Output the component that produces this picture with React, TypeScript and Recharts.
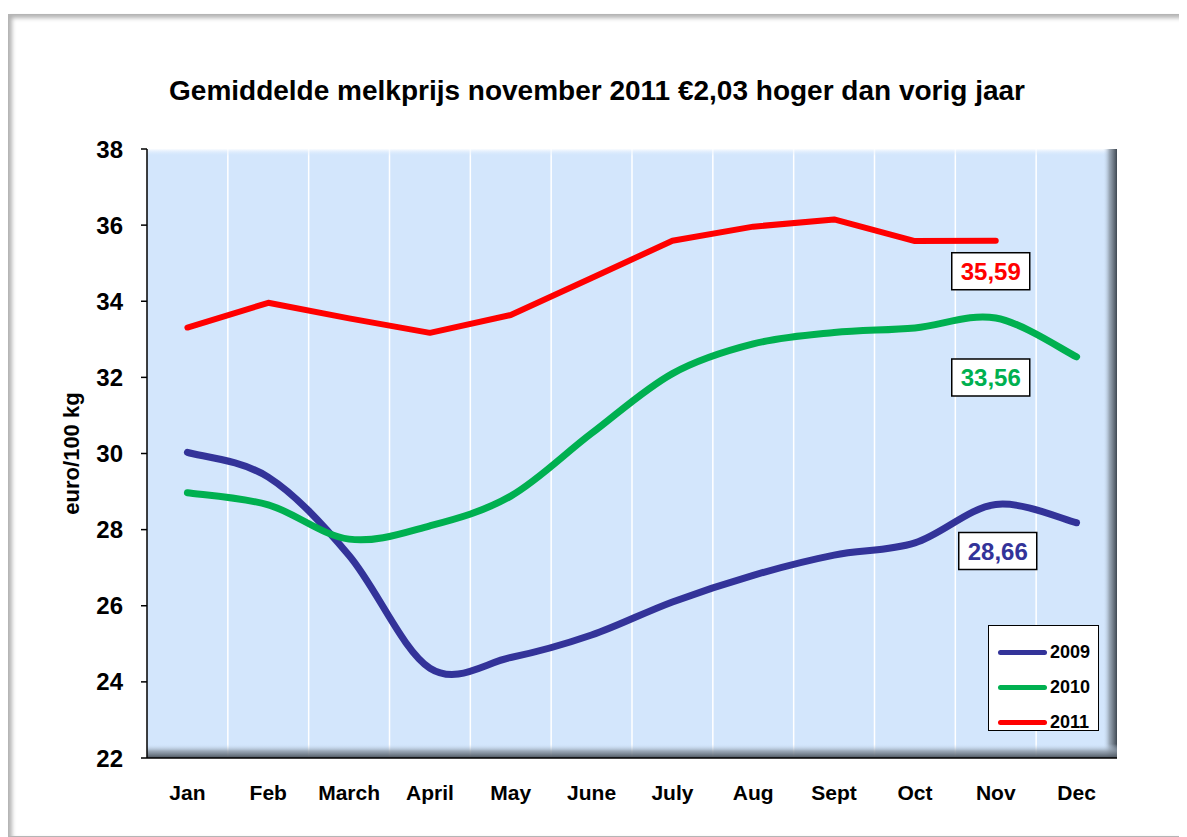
import React from 'react';
import {
  LineChart,
  Line,
  XAxis,
  YAxis,
  CartesianGrid,
  Legend,
  usePlotArea,
} from 'recharts';

// maanden en melkprijzen (euro/100 kg)
const months = ['Jan', 'Feb', 'March', 'April', 'May', 'June', 'July', 'Aug', 'Sept', 'Oct', 'Nov', 'Dec'];
const price2009 = [30.03, 29.38, 27.32, 24.36, 24.64, 25.23, 26.1, 26.8, 27.33, 27.65, 28.66, 28.18];
const price2010 = [28.97, 28.65, 27.75, 28.1, 28.88, 30.53, 32.1, 32.88, 33.18, 33.3, 33.56, 32.54];
const price2011 = [33.31, 33.96, 33.55, 33.17, 33.64, 34.61, 35.59, 35.96, 36.15, 35.58, 35.59, null];
const yTicks = [22, 24, 26, 28, 30, 32, 34, 36, 38];
const boundaryTicks = [0, 1, 2, 3, 4, 5, 6, 7, 8, 9, 10, 11, 12];
const labelTicks = months.map((_, i) => i + 0.5);

const FONT = '"Liberation Sans", Arial, sans-serif';

const data = months.map((m, i) => ({
  pos: i + 0.5,
  month: m,
  y2009: price2009[i],
  y2010: price2010[i],
  y2011: price2011[i],
}));

// Excel-achtige smoothing (Catmull-Rom)
const excelSmooth = (context: any) => {
  let pts: [number, number][] = [];
  return {
    areaStart() {},
    areaEnd() {},
    lineStart() {
      pts = [];
    },
    lineEnd() {
      const n = pts.length;
      if (n === 0) return;
      context.moveTo(pts[0][0], pts[0][1]);
      for (let i = 0; i < n - 1; i++) {
        const p0 = pts[Math.max(i - 1, 0)];
        const p1 = pts[i];
        const p2 = pts[i + 1];
        const p3 = pts[Math.min(i + 2, n - 1)];
        context.bezierCurveTo(
          p1[0] + (p2[0] - p0[0]) / 6,
          p1[1] + (p2[1] - p0[1]) / 6,
          p2[0] - (p3[0] - p1[0]) / 6,
          p2[1] - (p3[1] - p1[1]) / 6,
          p2[0],
          p2[1]
        );
      }
    },
    point(x: number, y: number) {
      pts.push([+x, +y]);
    },
  };
};

// witte lijnen op de maandgrenzen (binnenste grenzen)
const innerBoundaries = boundaryTicks.slice(1, -1);
const monthBoundaryLines = (args: any) => {
  const scale = args?.xAxis?.scale;
  if (typeof scale === 'function') return innerBoundaries.map((t) => scale(t));
  const o = args.offset;
  return innerBoundaries.map((t) => o.left + (t * o.width) / 12);
};

// 3D-rand van het plotvlak
function PlotBevel() {
  const area = usePlotArea();
  if (!area) return null;
  const { x, y, width, height } = area;
  return (
    <g pointerEvents='none'>
      <rect x={x} y={y} width={width} height={7} fill='url(#bevelTop)' />
      <rect x={x + width - 14} y={y} width={14} height={height} fill='url(#bevelRight)' />
      <rect x={x} y={y + height - 14} width={width} height={14} fill='url(#bevelBottom)' />
    </g>
  );
}

// label bij de novemberwaarde
const novLabel = (color: string, dx: number, dy: number) => (props: any) => {
  const { x, y, index, value } = props;
  if (index !== 10 || value == null) return null;
  const left = x + dx;
  const top = y + dy;
  return (
    <g>
      <rect x={left} y={top} width={78} height={37} fill='#fff' stroke='#000' strokeWidth={1.5} />
      <text
        x={left + 39}
        y={top + 27}
        textAnchor='middle'
        fill={color}
        fontSize={24}
        fontWeight='bold'
        fontFamily={FONT}
      >
        {Number(value).toFixed(2).replace('.', ',')}
      </text>
    </g>
  );
};

const legendItems = [
  { name: '2009', color: '#333399' },
  { name: '2010', color: '#00B050' },
  { name: '2011', color: '#FF0000' },
];

const renderLegend = () => (
  <div
    style={{
      width: 111,
      height: 106,
      boxSizing: 'border-box',
      background: '#fff',
      border: '1.5px solid #000',
      paddingTop: 9,
    }}
  >
    {legendItems.map((item) => (
      <div key={item.name} style={{ display: 'flex', alignItems: 'center', height: 35 }}>
        <div
          style={{
            width: 49,
            height: 5,
            borderRadius: 3,
            background: item.color,
            marginLeft: 9,
            marginRight: 3,
          }}
        />
        <span style={{ fontFamily: FONT, fontWeight: 'bold', fontSize: 18, color: '#000' }}>
          {item.name}
        </span>
      </div>
    ))}
  </div>
);

export default function App() {
  return (
    <div
      style={{
        position: 'relative',
        width: 1176,
        height: 823,
        marginTop: 6,
        background: '#fff',
        boxSizing: 'border-box',
        border: '1px solid #b5b5b5',
        boxShadow: 'inset 3px 3px 4px rgba(0,0,0,0.3), 2px 2px 3px rgba(0,0,0,0.25)',
      }}
    >
      <div
        style={{
          position: 'absolute',
          top: 60,
          left: 0,
          width: 1176,
          textAlign: 'center',
          fontFamily: FONT,
          fontWeight: 'bold',
          fontSize: 28,
          color: '#000',
        }}
      >
        Gemiddelde melkprijs november 2011 €2,03 hoger dan vorig jaar
      </div>
      <div style={{ position: 'absolute', left: -1, top: -1 }}>
        <LineChart
          width={1176}
          height={823}
          data={data}
          margin={{ top: 135, right: 67, bottom: 31, left: 55 }}
        >
          <defs>
            <linearGradient id='bevelTop' x1='0' y1='0' x2='0' y2='1'>
              <stop offset='0%' stopColor='#ffffff' stopOpacity={0.9} />
              <stop offset='100%' stopColor='#D3E6FC' stopOpacity={0} />
            </linearGradient>
            <linearGradient id='bevelRight' x1='0' y1='0' x2='1' y2='0'>
              <stop offset='0%' stopColor='#D3E6FC' stopOpacity={0} />
              <stop offset='45%' stopColor='#8d99a6' stopOpacity={0.8} />
              <stop offset='100%' stopColor='#3f4852' stopOpacity={1} />
            </linearGradient>
            <linearGradient id='bevelBottom' x1='0' y1='0' x2='0' y2='1'>
              <stop offset='0%' stopColor='#D3E6FC' stopOpacity={0} />
              <stop offset='50%' stopColor='#8d99a6' stopOpacity={0.8} />
              <stop offset='100%' stopColor='#4a535d' stopOpacity={1} />
            </linearGradient>
          </defs>
          <CartesianGrid
            horizontal={false}
            vertical
            stroke='#ffffff'
            strokeWidth={1.5}
            fill='#D3E6FC'
            fillOpacity={1}
            verticalCoordinatesGenerator={monthBoundaryLines}
          />
          <PlotBevel />
          <XAxis
            xAxisId={0}
            type='number'
            dataKey='pos'
            domain={[0, 12]}
            ticks={boundaryTicks}
            tick={false}
            tickSize={7}
            height={8}
            axisLine={{ stroke: '#000', strokeWidth: 1.5 }}
            tickLine={{ stroke: '#000', strokeWidth: 1.5 }}
            allowDataOverflow
          />
          <XAxis
            xAxisId='lab'
            type='number'
            dataKey='pos'
            domain={[0, 12]}
            ticks={labelTicks}
            tickFormatter={(v: number) => months[Math.floor(v)]}
            axisLine={false}
            tickLine={false}
            tickSize={6}
            tickMargin={13}
            height={40}
            interval={0}
            tick={{ fill: '#000', fontSize: 21, fontWeight: 'bold', fontFamily: FONT }}
          />
          <YAxis
            domain={[22, 38]}
            ticks={yTicks}
            width={84}
            interval={0}
            tickSize={6}
            tickMargin={18}
            axisLine={{ stroke: '#000', strokeWidth: 1.5 }}
            tickLine={{ stroke: '#000', strokeWidth: 1.5 }}
            tick={{ fill: '#000', fontSize: 24, fontWeight: 'bold', fontFamily: FONT }}
            label={{
              value: 'euro/100 kg',
              angle: -90,
              position: 'insideLeft',
              offset: 8,
              style: { textAnchor: 'middle', fill: '#000', fontSize: 22, fontWeight: 'bold', fontFamily: FONT },
            }}
          />
          <Line
            xAxisId={0}
            dataKey='y2009'
            name='2009'
            type={excelSmooth as any}
            stroke='#333399'
            strokeWidth={7}
            strokeLinecap='round'
            dot={false}
            isAnimationActive={false}
            label={novLabel('#333399', -37, 28)}
          />
          <Line
            xAxisId={0}
            dataKey='y2010'
            name='2010'
            type={excelSmooth as any}
            stroke='#00B050'
            strokeWidth={7}
            strokeLinecap='round'
            dot={false}
            isAnimationActive={false}
            label={novLabel('#00B050', -44, 41)}
          />
          <Line
            xAxisId={0}
            dataKey='y2011'
            name='2011'
            type='linear'
            stroke='#FF0000'
            strokeWidth={6}
            strokeLinecap='round'
            strokeLinejoin='round'
            dot={false}
            isAnimationActive={false}
            label={novLabel('#FF0000', -44, 12)}
          />
          <Legend
            layout='vertical'
            align='center'
            verticalAlign='middle'
            content={renderLegend}
            wrapperStyle={{ position: 'absolute', left: 980, top: 611, width: 111, height: 106 }}
          />
        </LineChart>
      </div>
    </div>
  );
}
